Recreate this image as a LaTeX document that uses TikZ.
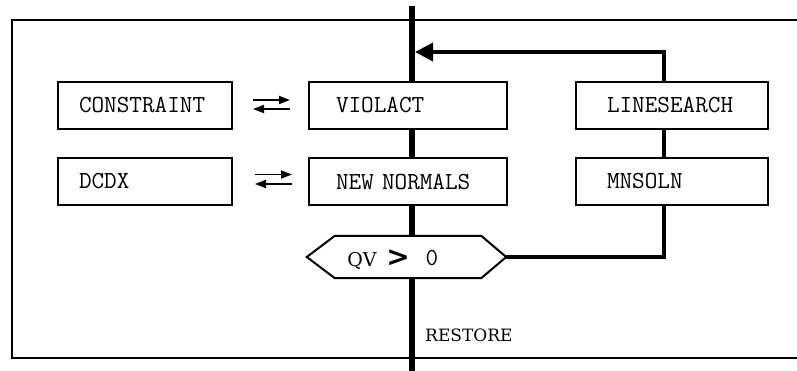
\documentclass[tikz,border=0pt]{standalone}
\usepackage{fontspec}
\setmainfont{DejaVu Serif}
\newfontfamily\symfont{DejaVu Sans}
\usetikzlibrary{arrows.meta,calc}
\newcommand{\boxfont}{\ttfamily\fontsize{24.5}{26}\selectfont}
\tikzset{
  box/.style={draw, line width=2pt, fill=white, minimum height=47pt, inner ysep=0pt,
    align=left, font=\boxfont, anchor=north west},
  frame/.style={line width=1.5pt},
  spine/.style={line width=6.5pt},
  flow/.style={line width=3.5pt},
  swap/.style={line width=1.8pt, -{Triangle[length=11pt,width=8pt]}},
  lbl/.style={inner sep=0pt}
}
\begin{document}
\begin{tikzpicture}[x=1pt,y=-1pt]
\useasboundingbox (0,0) rectangle (797,370);
% frame
\coordinate (ftr) at (797,20);
\coordinate (ftl) at (12,20);
\coordinate (fbl) at (12,358);
\coordinate (fbr) at (797,358);
\draw[frame] (ftr) -- (ftl) -- (fbl) -- (fbr);
% spine
\coordinate (stop) at (412,6);
\coordinate (sbot) at (412,372);
\draw[spine] (stop) -- (sbot);
% boxes
\node[box, inner xsep=21pt, text width=132pt] (con) at (57,80.5) {CONSTRAINT};
\node[box, inner xsep=21pt, text width=132pt] (dcdx) at (57,157) {DCDX};
\node[box, inner xsep=27pt, text width=144pt] (vio) at (308,80.5) {VIOLACT};
\node[box, inner xsep=27pt, text width=144pt] (nn) at (308,157) {NEW NORMALS};
\node[box, inner xsep=31pt, text width=130pt] (ls) at (575,80.5) {LINESEARCH};
\node[box, inner xsep=31pt, text width=130pt] (mn) at (575,157) {MNSOLN};
% hexagon
\node[minimum width=199pt, minimum height=42pt, inner sep=0pt] (hex) at (406.5,257) {};
\draw[line width=2pt, fill=white] (hex.west) -- ($(hex.north west)+(28,0)$) -- ($(hex.north east)+(-25,0)$)
  -- (hex.east) -- ($(hex.south east)+(-25,0)$) -- ($(hex.south west)+(28,0)$) -- cycle;
\node[lbl, anchor=base, font=\fontsize{19}{20}\selectfont] (qv) at (362,266) {QV};
\node[lbl, anchor=center, font=\symfont\bfseries\fontsize{28}{28}\selectfont] (gt) at (398,258.5) {>};
\node[lbl, anchor=base, font=\boxfont] (zero) at (432,265.5) {0};
% restore label
\node[lbl, anchor=base west, font=\fontsize{17}{18}\selectfont] (rest) at (425,341.5) {RESTORE};
% connectors
\coordinate (cx) at (664,0);
\coordinate (ay) at (0,52);
\coordinate (aend) at (415,52);
\draw[flow, -{Triangle[length=18pt,width=18pt]}] (ls.north -| cx) -- (cx |- ay) -- (aend);
\draw[line width=3.5pt] (ls.south -| cx) -- (mn.north -| cx);
\draw[line width=3.2pt] (mn.south -| cx) |- (hex.east);
% swap arrows
\draw[swap] ($(con.east)+(20,-5)$) -- ($(vio.west)+(-18,-5)$);
\draw[swap] ($(vio.west)+(-18,4)$) -- ($(con.east)+(20,4)$);
\draw[swap] ($(dcdx.east)+(22,-7)$) -- ($(nn.west)+(-16,-7)$);
\draw[swap] ($(nn.west)+(-16,2.5)$) -- ($(dcdx.east)+(22,2.5)$);
\end{tikzpicture}
\end{document}
